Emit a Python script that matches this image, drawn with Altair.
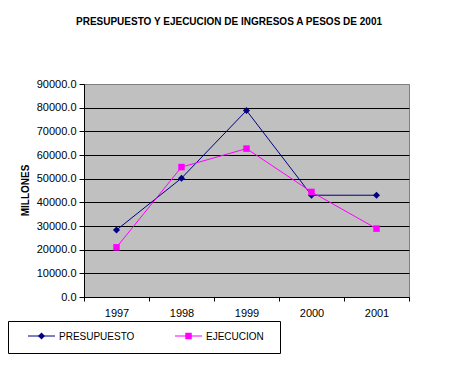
import altair as alt
import pandas as pd

years = ["1997", "1998", "1999", "2000", "2001"]
presupuesto = [28300, 50200, 78800, 43000, 43000]
ejecucion = [21000, 54900, 62700, 44400, 28900]
series = ["PRESUPUESTO", "EJECUCION"]
colors = ["#000080", "#FF00FF"]
shapes = ["diamond", "square"]
sizes = [50, 42]
y_ticks = [0, 10000, 20000, 30000, 40000, 50000, 60000, 70000, 80000, 90000]
title_text = "PRESUPUESTO Y EJECUCION DE INGRESOS A PESOS DE 2001"
y_title = "MILLONES"

W, H = 325, 213
FONT = "Liberation Sans"

df = pd.DataFrame({
    "year": years * 2,
    "value": presupuesto + ejecucion,
    "serie": [series[0]] * len(years) + [series[1]] * len(years),
})

x_enc = alt.X(
    "year:N",
    bandPosition=0.5,
    scale=alt.Scale(type="band", domain=years, paddingInner=0, paddingOuter=0),
    axis=alt.Axis(
        title=None, labelAngle=0, tickBand="extent", grid=False,
        domainColor="black", tickColor="black", tickSize=4, labelPadding=6,
        labelFont=FONT, labelFontSize=11, labelColor="black",
    ),
)
y_enc = alt.Y(
    "value:Q",
    scale=alt.Scale(domain=[0, 90000], nice=False),
    axis=alt.Axis(
        values=y_ticks, format=".1f", grid=True,
        gridColor=alt.condition("datum.value >= 90000", alt.value("#808080"), alt.value("black")),
        gridOpacity=1, domainColor="black", tickColor="black", tickSize=5,
        labelPadding=3, labelFont=FONT, labelFontSize=11, labelColor="black",
        title=y_title, titleFont=FONT, titleFontSize=10, titleFontWeight="bold",
        titleColor="black", titleX=-59, titleY=106, titleBaseline="middle",
    ),
)
color_enc = alt.Color("serie:N", scale=alt.Scale(domain=series, range=colors), legend=None)

lines = alt.Chart(df).mark_line(strokeWidth=1).encode(x=x_enc, y=y_enc, color=color_enc)
points = alt.Chart(df).mark_point(filled=True, opacity=1).encode(
    x=x_enc, y=y_enc, color=color_enc,
    shape=alt.Shape("serie:N", scale=alt.Scale(domain=series, range=shapes), legend=None),
    size=alt.Size("serie:N", scale=alt.Scale(domain=series, range=sizes), legend=None),
)

one = pd.DataFrame({"t": [title_text]})
title = alt.Chart(one).mark_text(
    font=FONT, fontSize=10, fontWeight="bold", color="black", align="center", baseline="middle"
).encode(x=alt.value(145), y=alt.value(-62), text="t:N")

# legend box
leg_box = alt.Chart(one).mark_rect(fill="white", stroke="black", strokeWidth=1).encode(
    x=alt.value(-75.5), x2=alt.value(196.5), y=alt.value(237.5), y2=alt.value(269.5))

legend_layers = []
leg_x = [-56, 91]
for i, s in enumerate(series):
    d = pd.DataFrame({"serie": [s]})
    lx = leg_x[i]
    legend_layers.append(alt.Chart(d).mark_rule(color=colors[i], strokeWidth=1).encode(
        x=alt.value(lx), x2=alt.value(lx + 27), y=alt.value(252)))
    legend_layers.append(alt.Chart(d).mark_point(
        filled=True, opacity=1, color=colors[i], shape=shapes[i], size=sizes[i]
    ).encode(x=alt.value(lx + 13.5), y=alt.value(252)))
    legend_layers.append(alt.Chart(d).mark_text(
        font=FONT, fontSize=10, color="black", align="left", baseline="middle"
    ).encode(x=alt.value(lx + 31), y=alt.value(252.5), text="serie:N"))

chart = alt.layer(lines, points, title, leg_box, *legend_layers).properties(
    width=W, height=H,
    padding={"left": 76, "top": 76, "right": 43, "bottom": 72},
    autosize=alt.AutoSizeParams(type="none"),
    background="white",
).configure_view(fill="#C0C0C0", stroke="#808080", strokeWidth=1)

chart.save("out.html", embed_options={"renderer": "svg", "actions": False})
